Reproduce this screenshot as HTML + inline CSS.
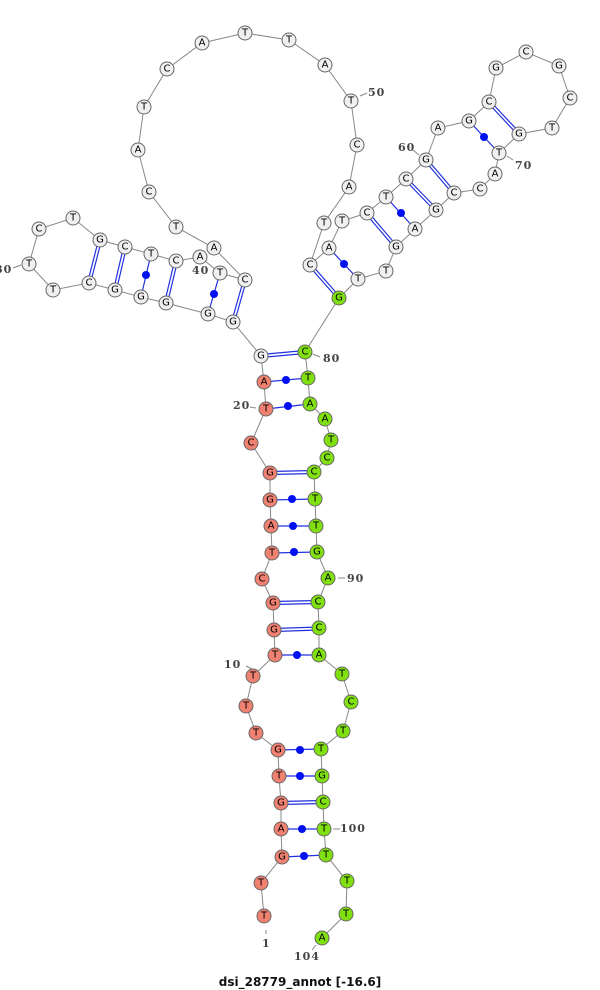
<!DOCTYPE html>
<html><head><meta charset="utf-8"><style>
html,body{margin:0;padding:0;background:#fff;}
svg{display:block;}
.n{stroke:#666;stroke-width:1;}
.w{fill:#f0f0f0;}
.r{fill:#f08070;}
.g{fill:#80e010;}
text.b{font-family:"DejaVu Sans","Liberation Sans",sans-serif;font-size:10px;text-anchor:middle;dominant-baseline:central;fill:#000;}
text.l{font-family:"DejaVu Serif","Liberation Serif",serif;font-size:11px;font-weight:bold;fill:#444;letter-spacing:1px;}
</style></head><body>
<svg width="600" height="990" viewBox="0 0 600 990" xmlns="http://www.w3.org/2000/svg">
<polyline fill="none" stroke="#888" stroke-width="1" points="264,916 261,883 282,857 281,829 281,803 279,776 278,750 256,733 246,706 253,676 275,655 274,630 273,603 262,579 272,553 271,526 270,500 270,473 251,443 266,409 264,382 261,356 233,322 208,314 166,303 141,297 115,290 89,283 53,290 29,264 39,229 73,218 100,240 125,247 151,254 176,261 200,257 220,273 245,280 214,248 176,227 149,192 138,150 144,107 167,69 202,43 245,33 289,40 325,65 351,101 357,145 349,187 324,223 310,265 329,248 342,221 367,213 386,197 406,179 426,160 438,128 469,121 489,102 496,68 526,52 559,66 570,98 552,128 519,134 499,153 495,174 480,189 454,193 436,210 415,229 396,247 386,271 358,279 339,298 305,352 308,378 310,404 325,419 331,440 327,458 314,472 315,499 316,526 317,552 328,578 318,602 319,628 319,655 342,674 351,702 343,731 321,749 322,776 323,802 324,829 326,855 347,881 346,914 322,938"/>
<g stroke="#888" stroke-width="1">
<line x1="266" y1="930" x2="266" y2="934"/><line x1="254" y1="670" x2="246" y2="666"/><line x1="250" y1="407" x2="256" y2="408"/><line x1="13" y1="268" x2="21" y2="265"/><line x1="360" y1="96" x2="367" y2="93"/><line x1="413" y1="150" x2="419" y2="155"/><line x1="507" y1="156" x2="513" y2="160"/><line x1="313" y1="354" x2="320" y2="357"/><line x1="338" y1="578" x2="345" y2="578"/><line x1="333" y1="829" x2="340" y2="829"/><line x1="316" y1="945" x2="312" y2="950"/>
</g>
<g stroke="#2030e0" stroke-width="1.2">
<!-- doubles -->
<line x1="261" y1="354.5" x2="305" y2="350.5"/><line x1="261" y1="357.5" x2="305" y2="353.5"/>
<line x1="270" y1="471.5" x2="314" y2="470.5"/><line x1="270" y1="474.5" x2="314" y2="473.5"/>
<line x1="273" y1="601.5" x2="318" y2="600.5"/><line x1="273" y1="604.5" x2="318" y2="603.5"/>
<line x1="274" y1="628.5" x2="319" y2="627"/><line x1="274" y1="631.5" x2="319" y2="630"/>
<line x1="281" y1="801.5" x2="323" y2="800.5"/><line x1="281" y1="804.5" x2="323" y2="803.5"/>
<line x1="98.5" y1="240" x2="87.5" y2="283"/><line x1="101.5" y1="240" x2="90.5" y2="283"/>
<line x1="123.5" y1="247" x2="113.5" y2="290"/><line x1="126.5" y1="247" x2="116.5" y2="290"/>
<line x1="174.5" y1="261" x2="164.5" y2="303"/><line x1="177.5" y1="261" x2="167.5" y2="303"/>
<line x1="243.5" y1="280" x2="231.5" y2="322"/><line x1="246.5" y1="280" x2="234.5" y2="322"/>
<line x1="309" y1="266" x2="338" y2="299"/><line x1="311" y1="264" x2="340" y2="297"/>
<line x1="366" y1="214" x2="395" y2="248"/><line x1="368" y1="212" x2="397" y2="246"/>
<line x1="405" y1="180" x2="435" y2="211"/><line x1="407" y1="178" x2="437" y2="209"/>
<line x1="425" y1="161" x2="453" y2="194"/><line x1="427" y1="159" x2="455" y2="192"/>
<line x1="488" y1="103" x2="518" y2="135"/><line x1="490" y1="101" x2="520" y2="133"/>
<!-- singles -->
<line x1="264" y1="382" x2="308" y2="378"/><line x1="266" y1="409" x2="310" y2="404"/>
<line x1="270" y1="500" x2="315" y2="499"/><line x1="271" y1="526" x2="316" y2="526"/><line x1="272" y1="553" x2="317" y2="552"/>
<line x1="275" y1="655" x2="319" y2="655"/><line x1="278" y1="750" x2="321" y2="749"/><line x1="279" y1="776" x2="322" y2="776"/>
<line x1="281" y1="829" x2="324" y2="829"/><line x1="282" y1="857" x2="326" y2="855"/>
<line x1="151" y1="254" x2="141" y2="297"/><line x1="220" y1="273" x2="208" y2="314"/>
<line x1="329" y1="248" x2="358" y2="279"/><line x1="386" y1="197" x2="415" y2="229"/><line x1="469" y1="121" x2="499" y2="153"/>
</g>
<g fill="#0010f0">
<circle cx="286" cy="380" r="4"/><circle cx="288" cy="406" r="4"/><circle cx="292" cy="499" r="4"/><circle cx="293" cy="526" r="4"/><circle cx="294" cy="552" r="4"/><circle cx="297" cy="655" r="4"/><circle cx="300" cy="750" r="4"/><circle cx="300" cy="776" r="4"/><circle cx="302" cy="829" r="4"/><circle cx="304" cy="856" r="4"/><circle cx="146" cy="275" r="4"/><circle cx="214" cy="294" r="4"/><circle cx="344" cy="264" r="4"/><circle cx="401" cy="213" r="4"/><circle cx="484" cy="137" r="4"/>
</g>
<g class="n">
<circle class="r" cx="264" cy="916" r="7"/><circle class="r" cx="261" cy="883" r="7"/><circle class="r" cx="282" cy="857" r="7"/><circle class="r" cx="281" cy="829" r="7"/><circle class="r" cx="281" cy="803" r="7"/><circle class="r" cx="279" cy="776" r="7"/><circle class="r" cx="278" cy="750" r="7"/><circle class="r" cx="256" cy="733" r="7"/><circle class="r" cx="246" cy="706" r="7"/><circle class="r" cx="253" cy="676" r="7"/><circle class="r" cx="275" cy="655" r="7"/><circle class="r" cx="274" cy="630" r="7"/><circle class="r" cx="273" cy="603" r="7"/><circle class="r" cx="262" cy="579" r="7"/><circle class="r" cx="272" cy="553" r="7"/><circle class="r" cx="271" cy="526" r="7"/><circle class="r" cx="270" cy="500" r="7"/><circle class="r" cx="270" cy="473" r="7"/><circle class="r" cx="251" cy="443" r="7"/><circle class="r" cx="266" cy="409" r="7"/><circle class="r" cx="264" cy="382" r="7"/>
<circle class="w" cx="261" cy="356" r="7"/><circle class="w" cx="233" cy="322" r="7"/><circle class="w" cx="208" cy="314" r="7"/><circle class="w" cx="166" cy="303" r="7"/><circle class="w" cx="141" cy="297" r="7"/><circle class="w" cx="115" cy="290" r="7"/><circle class="w" cx="89" cy="283" r="7"/><circle class="w" cx="53" cy="290" r="7"/><circle class="w" cx="29" cy="264" r="7"/><circle class="w" cx="39" cy="229" r="7"/><circle class="w" cx="73" cy="218" r="7"/><circle class="w" cx="100" cy="240" r="7"/><circle class="w" cx="125" cy="247" r="7"/><circle class="w" cx="151" cy="254" r="7"/><circle class="w" cx="176" cy="261" r="7"/><circle class="w" cx="200" cy="257" r="7"/><circle class="w" cx="220" cy="273" r="7"/><circle class="w" cx="245" cy="280" r="7"/><circle class="w" cx="214" cy="248" r="7"/><circle class="w" cx="176" cy="227" r="7"/><circle class="w" cx="149" cy="192" r="7"/><circle class="w" cx="138" cy="150" r="7"/><circle class="w" cx="144" cy="107" r="7"/><circle class="w" cx="167" cy="69" r="7"/><circle class="w" cx="202" cy="43" r="7"/><circle class="w" cx="245" cy="33" r="7"/><circle class="w" cx="289" cy="40" r="7"/><circle class="w" cx="325" cy="65" r="7"/><circle class="w" cx="351" cy="101" r="7"/><circle class="w" cx="357" cy="145" r="7"/><circle class="w" cx="349" cy="187" r="7"/><circle class="w" cx="324" cy="223" r="7"/><circle class="w" cx="310" cy="265" r="7"/><circle class="w" cx="329" cy="248" r="7"/><circle class="w" cx="342" cy="221" r="7"/><circle class="w" cx="367" cy="213" r="7"/><circle class="w" cx="386" cy="197" r="7"/><circle class="w" cx="406" cy="179" r="7"/><circle class="w" cx="426" cy="160" r="7"/><circle class="w" cx="438" cy="128" r="7"/><circle class="w" cx="469" cy="121" r="7"/><circle class="w" cx="489" cy="102" r="7"/><circle class="w" cx="496" cy="68" r="7"/><circle class="w" cx="526" cy="52" r="7"/><circle class="w" cx="559" cy="66" r="7"/><circle class="w" cx="570" cy="98" r="7"/><circle class="w" cx="552" cy="128" r="7"/><circle class="w" cx="519" cy="134" r="7"/><circle class="w" cx="499" cy="153" r="7"/><circle class="w" cx="495" cy="174" r="7"/><circle class="w" cx="480" cy="189" r="7"/><circle class="w" cx="454" cy="193" r="7"/><circle class="w" cx="436" cy="210" r="7"/><circle class="w" cx="415" cy="229" r="7"/><circle class="w" cx="396" cy="247" r="7"/><circle class="w" cx="386" cy="271" r="7"/><circle class="w" cx="358" cy="279" r="7"/>
<circle class="g" cx="339" cy="298" r="7"/><circle class="g" cx="305" cy="352" r="7"/><circle class="g" cx="308" cy="378" r="7"/><circle class="g" cx="310" cy="404" r="7"/><circle class="g" cx="325" cy="419" r="7"/><circle class="g" cx="331" cy="440" r="7"/><circle class="g" cx="327" cy="458" r="7"/><circle class="g" cx="314" cy="472" r="7"/><circle class="g" cx="315" cy="499" r="7"/><circle class="g" cx="316" cy="526" r="7"/><circle class="g" cx="317" cy="552" r="7"/><circle class="g" cx="328" cy="578" r="7"/><circle class="g" cx="318" cy="602" r="7"/><circle class="g" cx="319" cy="628" r="7"/><circle class="g" cx="319" cy="655" r="7"/><circle class="g" cx="342" cy="674" r="7"/><circle class="g" cx="351" cy="702" r="7"/><circle class="g" cx="343" cy="731" r="7"/><circle class="g" cx="321" cy="749" r="7"/><circle class="g" cx="322" cy="776" r="7"/><circle class="g" cx="323" cy="802" r="7"/><circle class="g" cx="324" cy="829" r="7"/><circle class="g" cx="326" cy="855" r="7"/><circle class="g" cx="347" cy="881" r="7"/><circle class="g" cx="346" cy="914" r="7"/><circle class="g" cx="322" cy="938" r="7"/>
</g>
<g>
<text class="b" x="264" y="916">T</text><text class="b" x="261" y="883">T</text><text class="b" x="282" y="857">G</text><text class="b" x="281" y="829">A</text><text class="b" x="281" y="803">G</text><text class="b" x="279" y="776">T</text><text class="b" x="278" y="750">G</text><text class="b" x="256" y="733">T</text><text class="b" x="246" y="706">T</text><text class="b" x="253" y="676">T</text><text class="b" x="275" y="655">T</text><text class="b" x="274" y="630">G</text><text class="b" x="273" y="603">G</text><text class="b" x="262" y="579">C</text><text class="b" x="272" y="553">T</text><text class="b" x="271" y="526">A</text><text class="b" x="270" y="500">G</text><text class="b" x="270" y="473">G</text><text class="b" x="251" y="443">C</text><text class="b" x="266" y="409">T</text><text class="b" x="264" y="382">A</text>
<text class="b" x="261" y="356">G</text><text class="b" x="233" y="322">G</text><text class="b" x="208" y="314">G</text><text class="b" x="166" y="303">G</text><text class="b" x="141" y="297">G</text><text class="b" x="115" y="290">G</text><text class="b" x="89" y="283">C</text><text class="b" x="53" y="290">T</text><text class="b" x="29" y="264">T</text><text class="b" x="39" y="229">C</text><text class="b" x="73" y="218">T</text><text class="b" x="100" y="240">G</text><text class="b" x="125" y="247">C</text><text class="b" x="151" y="254">T</text><text class="b" x="176" y="261">C</text><text class="b" x="200" y="257">A</text><text class="b" x="220" y="273">T</text><text class="b" x="245" y="280">C</text><text class="b" x="214" y="248">A</text><text class="b" x="176" y="227">T</text><text class="b" x="149" y="192">C</text><text class="b" x="138" y="150">A</text><text class="b" x="144" y="107">T</text><text class="b" x="167" y="69">C</text><text class="b" x="202" y="43">A</text><text class="b" x="245" y="33">T</text><text class="b" x="289" y="40">T</text><text class="b" x="325" y="65">A</text><text class="b" x="351" y="101">T</text><text class="b" x="357" y="145">C</text><text class="b" x="349" y="187">A</text><text class="b" x="324" y="223">T</text><text class="b" x="310" y="265">C</text><text class="b" x="329" y="248">A</text><text class="b" x="342" y="221">T</text><text class="b" x="367" y="213">C</text><text class="b" x="386" y="197">T</text><text class="b" x="406" y="179">C</text><text class="b" x="426" y="160">G</text><text class="b" x="438" y="128">A</text><text class="b" x="469" y="121">G</text><text class="b" x="489" y="102">C</text><text class="b" x="496" y="68">G</text><text class="b" x="526" y="52">C</text><text class="b" x="559" y="66">G</text><text class="b" x="570" y="98">C</text><text class="b" x="552" y="128">T</text><text class="b" x="519" y="134">G</text><text class="b" x="499" y="153">T</text><text class="b" x="495" y="174">A</text><text class="b" x="480" y="189">C</text><text class="b" x="454" y="193">C</text><text class="b" x="436" y="210">G</text><text class="b" x="415" y="229">A</text><text class="b" x="396" y="247">G</text><text class="b" x="386" y="271">T</text><text class="b" x="358" y="279">T</text>
<text class="b" x="339" y="298">G</text><text class="b" x="305" y="352">C</text><text class="b" x="308" y="378">T</text><text class="b" x="310" y="404">A</text><text class="b" x="325" y="419">A</text><text class="b" x="331" y="440">T</text><text class="b" x="327" y="458">C</text><text class="b" x="314" y="472">C</text><text class="b" x="315" y="499">T</text><text class="b" x="316" y="526">T</text><text class="b" x="317" y="552">G</text><text class="b" x="328" y="578">A</text><text class="b" x="318" y="602">C</text><text class="b" x="319" y="628">C</text><text class="b" x="319" y="655">A</text><text class="b" x="342" y="674">T</text><text class="b" x="351" y="702">C</text><text class="b" x="343" y="731">T</text><text class="b" x="321" y="749">T</text><text class="b" x="322" y="776">G</text><text class="b" x="323" y="802">C</text><text class="b" x="324" y="829">T</text><text class="b" x="326" y="855">T</text><text class="b" x="347" y="881">T</text><text class="b" x="346" y="914">T</text><text class="b" x="322" y="938">A</text>
</g>
<g>
<text class="l" x="262" y="947">1</text>
<text class="l" x="224" y="668">10</text>
<text class="l" x="233" y="409">20</text>
<text class="l" x="-5" y="273">30</text>
<text class="l" x="192" y="274">40</text>
<text class="l" x="368" y="96">50</text>
<text class="l" x="398" y="151">60</text>
<text class="l" x="515" y="169">70</text>
<text class="l" x="323" y="362">80</text>
<text class="l" x="347" y="582">90</text>
<text class="l" x="340" y="832">100</text>
<text class="l" x="294" y="960">104</text>
</g>
<text x="300" y="986" text-anchor="middle" font-family="DejaVu Sans, Liberation Sans, sans-serif" font-size="12" font-weight="bold" fill="#111">dsi_28779_annot [-16.6]</text>
</svg>
</body></html>
